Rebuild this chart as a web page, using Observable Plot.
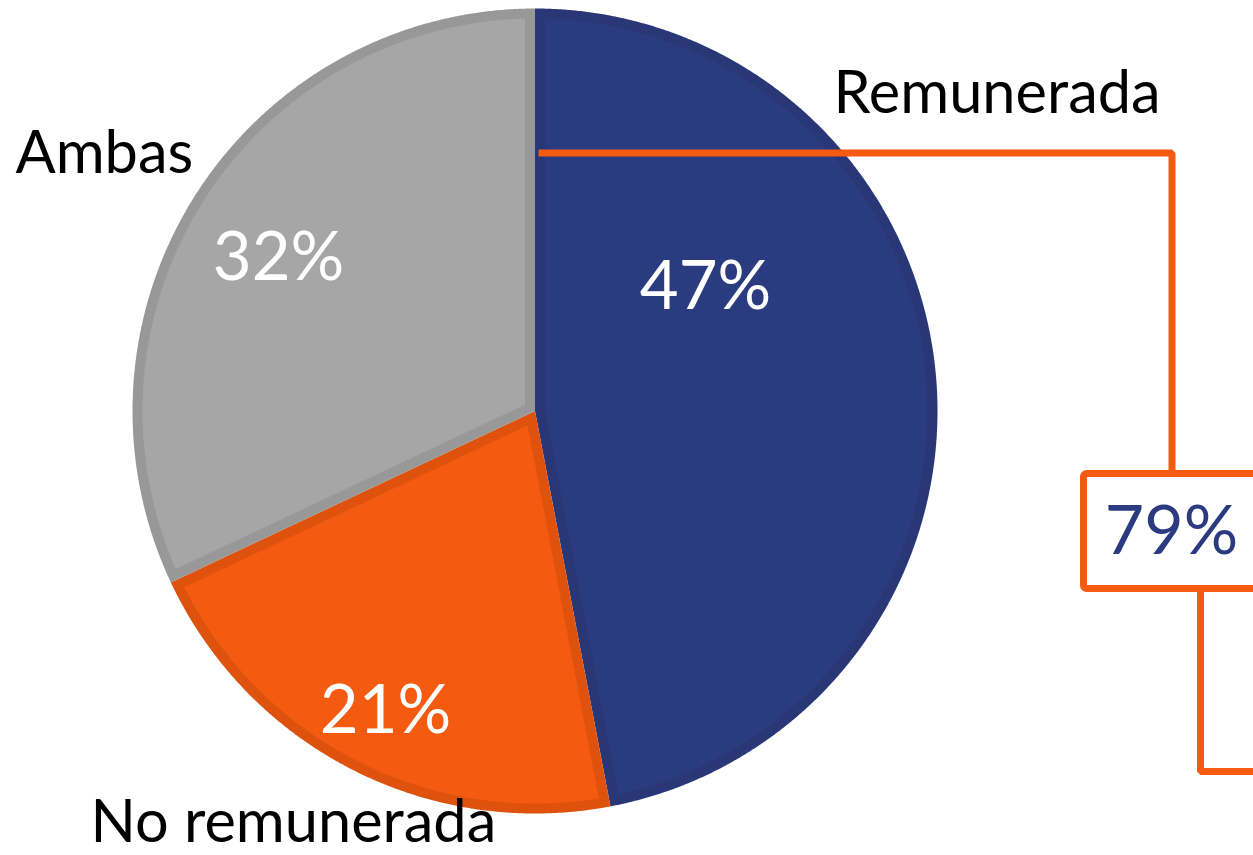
<!DOCTYPE html>
<html><head><meta charset="utf-8">
<script src="https://cdn.jsdelivr.net/npm/d3@7"></script>
<script src="https://cdn.jsdelivr.net/npm/@observablehq/plot@0.6"></script>
<style>html,body{margin:0;padding:0;background:#fff;overflow:hidden}</style>
</head><body><div id="chart"></div>
<script>
// ---- data ----
const categories = ["Remunerada", "No remunerada", "Ambas"];
const shares = [47, 21, 32];
const sliceFill = ["#2b3b80", "#f55b10", "#a6a6a6"];
const sliceBorder = ["#293777", "#de520e", "#989898"];
const calloutGroup = ["Remunerada", "Ambas"]; // combined share shown in the callout box

// ---- layout (pie radius = 1, centre = origin) ----
const W = 1253, H = 855;
const xDomain = [-1.3280, 1.7851];
const yDomain = [-1.1043, 1.0199];
const BORDER = 10 / 402.5;
const nameLayout = {
  "Remunerada":    {x: 0.7416,  y: 0.7876},
  "Ambas":         {x: -1.2907, y: 0.6398},
  "No remunerada": {x: -1.1044, y: -1.0222}
};
const pctLayout = {
  "Remunerada":    {x: 0.4236,  y: 0.3068},
  "No remunerada": {x: -0.3714, y: -0.7466},
  "Ambas":         {x: -0.6373, y: 0.3789}
};
const callout = {leadY: 0.641, startX: 0.0087, elbowX: 1.5826,
  boxLeft: 1.3640, boxRight: 1.95, boxTop: -0.1565, boxBottom: -0.4422,
  lowX: 1.6534, lowY: -0.8957, endX: 1.95, textX: 1.5814, textY: -0.3006};
const ORANGE = "#f55b10";
const BLUE = "#2b3b80";

// ---- geometry from data ----
const total = d3.sum(shares);
let acc = 0;
const slices = categories.map((c, i) => {
  const a0 = acc / total * 2 * Math.PI; acc += shares[i];
  const a1 = acc / total * 2 * Math.PI;
  return {c, i, a0, a1};
});
function slicePoints(s, inset, color) {
  const rho = 1 - inset;
  const da = inset ? Math.asin(inset / rho) : 0;
  const half = (s.a1 - s.a0) / 2, mid = (s.a0 + s.a1) / 2;
  const apexR = inset ? inset / Math.sin(half) : 0;
  const pts = [{x: apexR * Math.sin(mid), y: apexR * Math.cos(mid)}];
  const b0 = s.a0 + da, b1 = s.a1 - da;
  const n = Math.max(2, Math.ceil((b1 - b0) / (Math.PI / 720)));
  for (let k = 0; k <= n; k++) {
    const a = b0 + (b1 - b0) * k / n;
    pts.push({x: rho * Math.sin(a), y: rho * Math.cos(a)});
  }
  return pts.map(p => ({...p, key: s.c, color}));
}
const outerPts = slices.flatMap(s => slicePoints(s, 0, sliceBorder[s.i]));
const innerPts = slices.flatMap(s => slicePoints(s, BORDER, sliceFill[s.i]));

const names = categories.map(c => ({c, ...nameLayout[c]}));
const pcts = categories.map((c, i) => ({label: shares[i] + "%", ...pctLayout[c]}));
const combined = d3.sum(categories.map((c, i) => calloutGroup.includes(c) ? shares[i] : 0));

const leadTop = [
  {x: callout.startX, y: callout.leadY},
  {x: callout.elbowX, y: callout.leadY},
  {x: callout.elbowX, y: callout.boxTop}
];
const leadLow = [
  {x: callout.lowX, y: callout.boxBottom},
  {x: callout.lowX, y: callout.lowY},
  {x: callout.endX, y: callout.lowY}
];

const chart = Plot.plot({
  width: W, height: H,
  margin: 0,
  style: {background: "white", overflow: "hidden"},
  x: {domain: xDomain, axis: null},
  y: {domain: yDomain, axis: null},
  color: {type: "identity"},
  marks: [
    Plot.line(outerPts, {x: "x", y: "y", z: "key", fill: "color", stroke: "none", curve: "linear-closed"}),
    Plot.line(innerPts, {x: "x", y: "y", z: "key", fill: "color", stroke: "none", curve: "linear-closed"}),
    Plot.line(leadTop, {x: "x", y: "y", stroke: ORANGE, strokeWidth: 7, strokeLinejoin: "miter", strokeLinecap: "butt"}),
    Plot.line(leadLow, {x: "x", y: "y", stroke: ORANGE, strokeWidth: 7, strokeLinejoin: "miter", strokeLinecap: "butt"}),
    Plot.rect([callout], {x1: "boxLeft", x2: "boxRight", y1: "boxBottom", y2: "boxTop", fill: "white", stroke: ORANGE, strokeWidth: 7, rx: 3}),
    Plot.text([callout], {x: "textX", y: "textY", text: () => combined + "%", fill: BLUE, fontSize: 68, fontFamily: "Lato", textAnchor: "middle"}),
    Plot.text(pcts, {x: "x", y: "y", text: "label", fill: "white", fontSize: 67, fontFamily: "Lato", textAnchor: "middle"}),
    Plot.text(names, {x: "x", y: "y", text: "c", fill: "black", fontSize: 59.5, fontFamily: "Lato", textAnchor: "start"})
  ]
});
document.getElementById("chart").append(chart);
</script></body></html>
